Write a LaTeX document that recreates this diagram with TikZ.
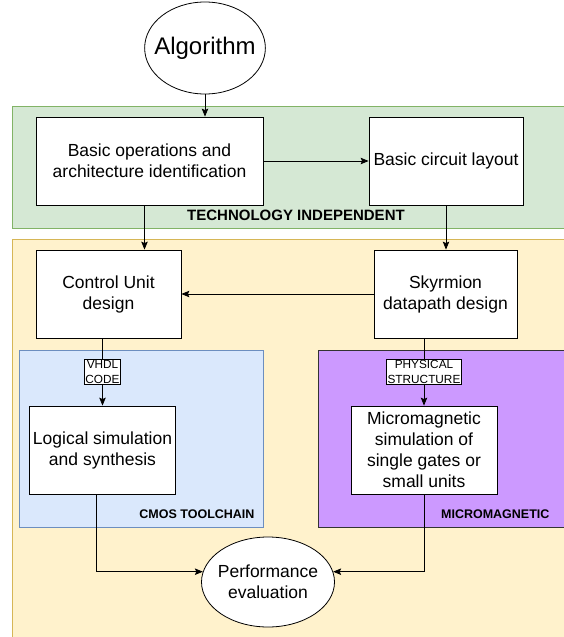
\documentclass[tikz,border=0pt]{standalone}
\usepackage{fontspec}
\setmainfont{Liberation Sans}
\usetikzlibrary{shapes.geometric, arrows.meta, positioning, calc}

\definecolor{techfill}{HTML}{D5E8D4}
\definecolor{techline}{HTML}{82B366}
\definecolor{impfill}{HTML}{FFF2CC}
\definecolor{impline}{HTML}{D6B656}
\definecolor{cmosfill}{HTML}{DAE8FC}
\definecolor{cmosline}{HTML}{6C8EBF}
\definecolor{magfill}{HTML}{CC99FF}

\begin{document}
\begin{tikzpicture}[
      x=1pt, y=-1pt,
      zone/.style={line width=0.8pt},
      step box/.style={rectangle, draw, line width=0.8pt, fill=white, align=center, font=\fontsize{17.5}{21}\selectfont},
      oval/.style={ellipse, draw, line width=0.8pt, fill=white, align=center},
      tag/.style={rectangle, draw, line width=0.8pt, fill=white, align=center, inner sep=1.2pt, font=\fontsize{11.8}{14.5}\selectfont},
      zonelabel/.style={font=\bfseries\fontsize{12.5}{14}\selectfont},
      arrow/.style={-{Stealth[length=8pt, width=6.5pt, inset=1.5pt]}, line width=0.8pt}
    ]
    \useasboundingbox (0,0) rectangle (563,637);

    % background zones
    \draw[zone, fill=techfill, draw=techline] (12,106) rectangle (567,228);
    \draw[zone, fill=impfill, draw=impline] (12,239) rectangle (567,641);
    \draw[zone, fill=cmosfill, draw=cmosline] (19,350) rectangle (263,527);
    \draw[zone, fill=magfill, draw=black!80] (318,350) rectangle (567,527);

    \node[zonelabel, font=\bfseries\fontsize{15}{17}\selectfont] (techlbl) at (296,215) {TECHNOLOGY INDEPENDENT};
    \node[zonelabel, anchor=east] (cmoslbl) at (258,514) {CMOS TOOLCHAIN};
    \node[zonelabel, anchor=east] (maglbl) at (553,514) {MICROMAGNETIC};

    % flow
    \node[oval, inner sep=-8pt, minimum width=118pt, minimum height=92pt, font=\fontsize{24}{28}\selectfont] (alg) at (205,48) {Algorithm};
    \node[step box, minimum width=227pt, minimum height=88pt] (ops) at (149.5,161) {Basic operations and\\architecture identification};
    \node[step box, minimum width=154pt, minimum height=88pt] (layout) at (446,161) {Basic circuit layout};
    \node[step box, minimum width=145pt, minimum height=88pt] (cu) at (108.5,294) {Control Unit\\design};
    \node[step box, minimum width=143pt, minimum height=88pt] (sky) at (445.5,294) {Skyrmion\\datapath design};
    \node[step box, minimum width=145pt, minimum height=88pt] (lsim) at (102.5,450) {Logical simulation\\and synthesis};
    \node[step box, minimum width=146pt, minimum height=88pt] (mm) at (424,450) {Micromagnetic\\simulation of\\single gates or\\small units};
    \node[oval, inner sep=-4pt, minimum width=133pt, minimum height=90pt, font=\fontsize{17.5}{21}\selectfont] (perf) at (268,582) {Performance\\evaluation};

    \draw[arrow] (alg.south) -- (alg.south |- ops.north);
    \draw[arrow] (ops.east) -- (layout.west);
    \draw[arrow] ([xshift=-5pt]ops.south) -- ([xshift=-5pt]ops.south |- cu.north);
    \draw[arrow] (layout.south) -- (layout.south |- sky.north);
    \draw[arrow] (sky.west) -- (cu.east);
    \draw[arrow] (lsim.north |- cu.south) -- node[tag] (vhdl) {VHDL\\CODE} (lsim.north);
    \draw[arrow] (mm.north |- sky.south) -- node[tag] (phys) {PHYSICAL\\STRUCTURE} (mm.north);
    \draw[arrow] ([xshift=-6pt]lsim.south) |- (perf.171);
    \draw[arrow] (mm.south) |- (perf.9);
  \end{tikzpicture}
\end{document}
